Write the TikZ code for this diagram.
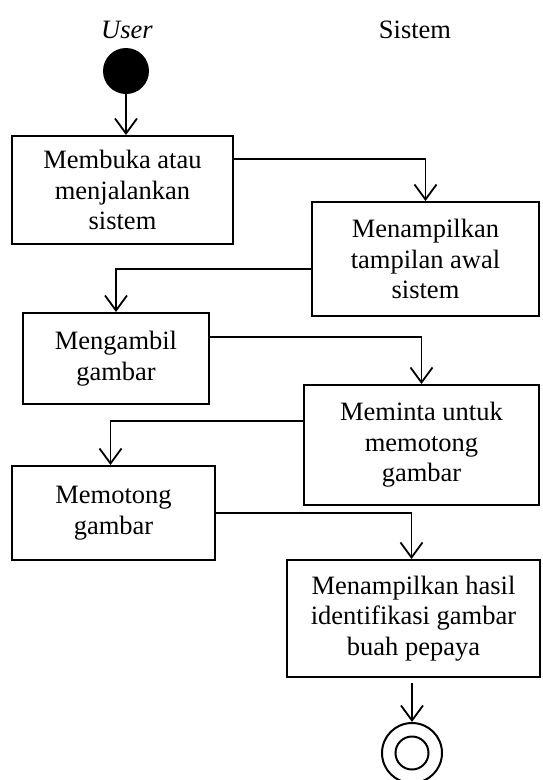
\documentclass[tikz,border=0pt]{standalone}
\usepackage{fontspec}
\setmainfont{Liberation Serif}
\usetikzlibrary{arrows.meta}
\begin{document}
\begin{tikzpicture}[x=1pt,y=-1pt,
  act/.style={draw, line width=2pt, align=center, inner sep=0pt, font=\fontsize{26.5}{30.5}\selectfont},
  flow/.style={line width=1.8pt, -{Straight Barb[length=15pt,width=22pt,line width=1.8pt]}},
  lbl/.style={font=\fontsize{26.5}{30}\selectfont, inner sep=0pt},
  startnode/.style={circle, fill=black, minimum size=46pt, inner sep=0pt},
  endouter/.style={circle, draw, line width=2pt, minimum size=60pt, inner sep=0pt},
  endinner/.style={circle, draw, line width=2pt, minimum size=33pt, inner sep=0pt}
]
\useasboundingbox (0,0) rectangle (542,780);
\node[lbl] (huser) at (127,30) {\itshape User};
\node[lbl] (hsis) at (415,30) {Sistem};
\node[startnode] (start) at (126,71) {};
\node[act, minimum width=221pt, minimum height=108pt] (b1) at (122.5,190) {Membuka atau\\menjalankan\\sistem};
\node[act, minimum width=227pt, minimum height=114pt] (b2) at (425.5,259) {Menampilkan\\tampilan awal\\sistem};
\node[act, minimum width=186pt, minimum height=91pt] (b3) at (116,358.5) {Mengambil\\gambar};
\node[act, minimum width=235pt, minimum height=120pt] (b4) at (421.5,445) {Meminta untuk\\memotong\\gambar};
\node[act, minimum width=203pt, minimum height=94pt] (b5) at (113.5,513) {Memotong\\gambar};
\node[act, minimum width=253pt, minimum height=117pt] (b6) at (413.5,618.5) {Menampilkan hasil\\identifikasi gambar\\buah pepaya};
\node[endouter] (fin) at (412,753) {};
\node[endinner] (fininner) at (fin) {};
\draw[flow] (start.south) -- (start.south |- b1.north);
\draw[flow] ([yshift=-24pt]b1.north east) -| (b2.north);
\draw[flow] ([yshift=-68pt]b2.north west) -| (b3.north);
\draw[flow] ([yshift=-25pt]b3.north east) -| (b4.north);
\draw[flow] ([yshift=-37pt]b4.north west) -| ([xshift=-3pt]b5.north);
\draw[flow] ([yshift=-48pt]b5.north east) -| ([xshift=-2pt]b6.north);
\draw[flow, shorten <=5pt] ([xshift=-1.5pt]b6.south) -- (fin.north);
\end{tikzpicture}
\end{document}
